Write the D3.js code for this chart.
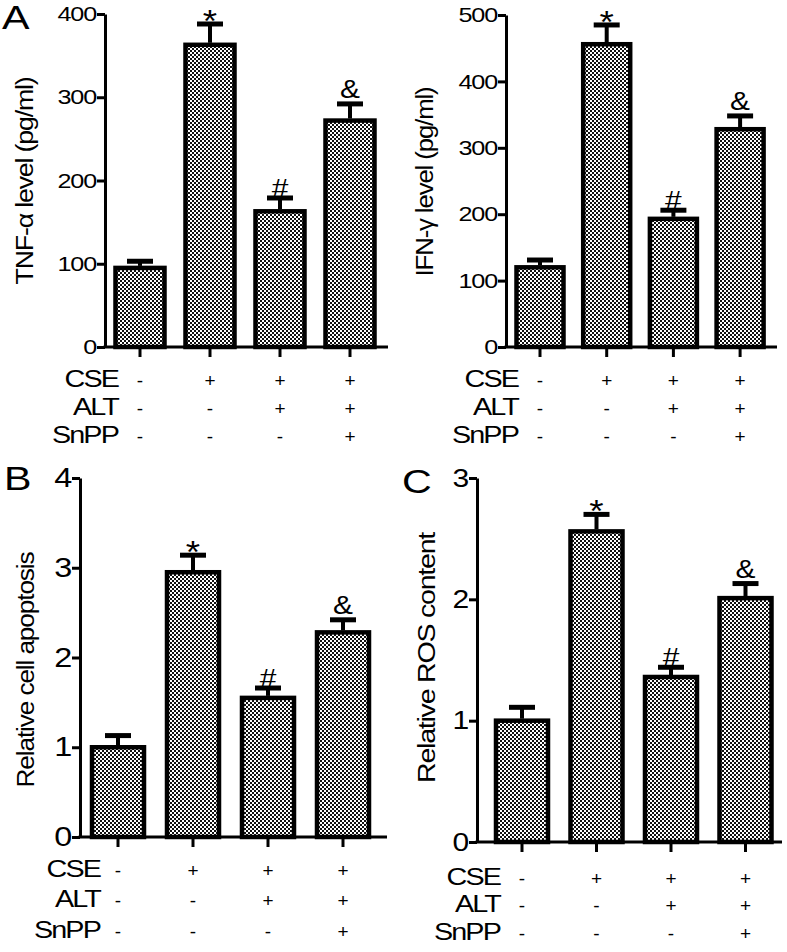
<!DOCTYPE html>
<html>
<head>
<meta charset="utf-8">
<script src="https://cdn.jsdelivr.net/npm/d3@7"></script>
<style>
  html, body { margin: 0; padding: 0; background: #fff; }
  svg { display: block; }
  text { font-family: "Liberation Sans", Arial, Helvetica, sans-serif; fill: #000; }
</style>
</head>
<body>
<script>
// ---------------- DATA ----------------
const groups = ["G1", "G2", "G3", "G4"];
const rowLabels = ["CSE", "ALT", "SnPP"];
const cseMarks = ["-", "+", "+", "+"];
const altMarks = ["-", "-", "+", "+"];
const snppMarks = ["-", "-", "-", "+"];
const sigMarks = ["", "*", "#", "&"];

const tnfMean = [95, 363, 163, 272];
const tnfErr  = [8, 25, 16, 20];
const tnfTicks = [0, 100, 200, 300, 400];

const ifnMean = [120, 456, 193, 328];
const ifnErr  = [11, 29, 13, 20];
const ifnTicks = [0, 100, 200, 300, 400, 500];

const apopMean = [1.0, 2.95, 1.55, 2.28];
const apopErr  = [0.13, 0.19, 0.11, 0.14];
const apopTicks = [0, 1, 2, 3, 4];

const rosMean = [1.0, 2.56, 1.36, 2.01];
const rosErr  = [0.11, 0.14, 0.08, 0.12];
const rosTicks = [0, 1, 2, 3];

const panelLetters = ["A", "", "B", "C"];
const yTitles = ["TNF-\u03b1 level (pg/ml)", "IFN-\u03b3 level (pg/ml)", "Relative cell apoptosis", "Relative ROS content"];

// ---------------- LAYOUT ----------------
const W = 787, H = 952;
const svg = d3.select("body").append("svg").attr("width", W).attr("height", H);
svg.append("rect").attr("width", W).attr("height", H).attr("fill", "#fff");

const defs = svg.append("defs");
const pat = defs.append("pattern").attr("id", "checker")
  .attr("width", 4).attr("height", 4).attr("patternUnits", "userSpaceOnUse");
pat.append("rect").attr("width", 4).attr("height", 4).attr("fill", "#fff");
pat.append("rect").attr("x", 0).attr("y", 0).attr("width", 2).attr("height", 2).attr("fill", "#111");
pat.append("rect").attr("x", 2).attr("y", 2).attr("width", 2).attr("height", 2).attr("fill", "#111");

function stretch(sel, f) {
  sel.each(function () {
    const L = this.getComputedTextLength();
    if (L > 0) d3.select(this).attr("textLength", L * f).attr("lengthAdjust", "spacingAndGlyphs");
  });
}

const panels = [
  { mean: tnfMean, err: tnfErr, ticks: tnfTicks, letter: panelLetters[0], title: yTitles[0],
    axisX: 105, y0: 347, yTop: 14, xEnd: 388, step: 70, firstC: 140, barW: 49, tickFont: 21,
    labelRight: 118, rows: [387, 415, 443], letterPos: [2, 29], titlePos: [25, 181], titleLen: 207 },
  { mean: ifnMean, err: ifnErr, ticks: ifnTicks, letter: panelLetters[1], title: yTitles[1],
    axisX: 506, y0: 347, yTop: 15, xEnd: 777, step: 66.7, firstC: 540, barW: 47, tickFont: 21,
    labelRight: 518, rows: [387, 415, 443], letterPos: [0, 0], titlePos: [425, 182], titleLen: 189 },
  { mean: apopMean, err: apopErr, ticks: apopTicks, letter: panelLetters[2], title: yTitles[2],
    axisX: 80, y0: 837, yTop: 478, xEnd: 387, step: 75, firstC: 118, barW: 52, tickFont: 27,
    labelRight: 100, rows: [877, 907, 938], letterPos: [4, 490], titlePos: [26, 670], titleLen: 235 },
  { mean: rosMean, err: rosErr, ticks: rosTicks, letter: panelLetters[3], title: yTitles[3],
    axisX: 477, y0: 842, yTop: 478, xEnd: 782, step: 74.5, firstC: 522, barW: 52, tickFont: 25,
    labelRight: 500, rows: [885, 912, 940], letterPos: [402, 493], titlePos: [427, 658], titleLen: 250 }
];

const sigDy = { "*": 8, "#": -1, "&": -6 };
const sigSize = { "*": 32, "#": 26, "&": 26 };

panels.forEach(p => {
  const g = svg.append("g");
  const maxV = p.ticks[p.ticks.length - 1];
  const y = d3.scaleLinear().domain([0, maxV]).range([p.y0, p.yTop]);

  const pin = 1 - p.barW / p.step;
  const pout = (p.firstC - p.axisX) / p.step - (1 - pin) / 2;
  const r1 = p.axisX + p.step * (groups.length - pin + 2 * pout);
  const x = d3.scaleBand().domain(groups).range([p.axisX, r1])
    .paddingInner(pin).paddingOuter(pout);
  const cx = d => x(d) + x.bandwidth() / 2;

  // bars
  g.selectAll("rect.bar").data(groups).join("rect")
    .attr("class", "bar")
    .attr("x", d => x(d))
    .attr("width", x.bandwidth())
    .attr("y", (d, i) => y(p.mean[i]))
    .attr("height", (d, i) => p.y0 - y(p.mean[i]))
    .attr("fill", "url(#checker)")
    .attr("stroke", "#000").attr("stroke-width", 4.5);

  // error bars
  g.selectAll("line.err").data(groups).join("line")
    .attr("x1", cx).attr("x2", cx)
    .attr("y1", (d, i) => y(p.mean[i]) - 2)
    .attr("y2", (d, i) => y(p.mean[i] + p.err[i]))
    .attr("stroke", "#000").attr("stroke-width", 4);
  g.selectAll("line.cap").data(groups).join("line")
    .attr("x1", d => cx(d) - 13).attr("x2", d => cx(d) + 13)
    .attr("y1", (d, i) => y(p.mean[i] + p.err[i]))
    .attr("y2", (d, i) => y(p.mean[i] + p.err[i]))
    .attr("stroke", "#000").attr("stroke-width", 5);

  // significance marks
  const sig = g.selectAll("text.sig").data(groups).join("text")
    .attr("x", cx)
    .attr("y", (d, i) => y(p.mean[i] + p.err[i]) + (sigDy[sigMarks[i]] || 0))
    .attr("text-anchor", "middle")
    .attr("font-size", (d, i) => sigSize[sigMarks[i]] || 24)
    .text((d, i) => sigMarks[i]);
  stretch(sig, 1.15);

  // y axis
  const ya = g.append("g").attr("transform", `translate(${p.axisX},0)`)
    .call(d3.axisLeft(y).tickValues(p.ticks).tickSize(8).tickSizeOuter(0).tickPadding(1)
      .tickFormat(d3.format("d")));
  ya.select(".domain").attr("stroke-width", 3);
  ya.selectAll(".tick line").attr("stroke-width", 3);
  const tl = ya.selectAll(".tick text").attr("font-size", p.tickFont).attr("letter-spacing", -1)
    .style("font-family", "'Liberation Sans', Arial, sans-serif");
  stretch(tl, 1.2);

  // x axis
  const xa = g.append("g").attr("transform", `translate(0,${p.y0})`)
    .call(d3.axisBottom(x).tickSize(10).tickSizeOuter(0).tickFormat(""));
  xa.select(".domain").remove();
  xa.selectAll(".tick line").attr("stroke-width", 3);
  g.append("line").attr("x1", p.axisX - 1.5).attr("x2", p.xEnd)
    .attr("y1", p.y0).attr("y2", p.y0).attr("stroke", "#000").attr("stroke-width", 3);

  // treatment rows
  const markRows = [cseMarks, altMarks, snppMarks];
  rowLabels.forEach((lab, r) => {
    const t = g.append("text").attr("x", p.labelRight).attr("y", p.rows[r])
      .attr("text-anchor", "end").attr("font-size", 23).attr("letter-spacing", -1.5)
      .text(lab);
    stretch(t, 1.25);
    g.selectAll(null).data(groups).join("text")
      .attr("x", cx).attr("y", p.rows[r])
      .attr("text-anchor", "middle").attr("font-size", 19)
      .text((d, i) => markRows[r][i]);
  });

  // y title
  g.append("text")
    .attr("transform", `translate(${p.titlePos[0]},${p.titlePos[1]}) rotate(-90)`)
    .attr("text-anchor", "middle").attr("dominant-baseline", "central")
    .attr("font-size", 23).attr("letter-spacing", -1)
    .attr("textLength", p.titleLen).attr("lengthAdjust", "spacingAndGlyphs")
    .text(p.title);

  // panel letter
  if (p.letter) {
    const t = g.append("text").attr("x", p.letterPos[0]).attr("y", p.letterPos[1])
      .attr("font-size", 33).text(p.letter);
    stretch(t, 1.25);
  }
});
</script>
</body>
</html>
